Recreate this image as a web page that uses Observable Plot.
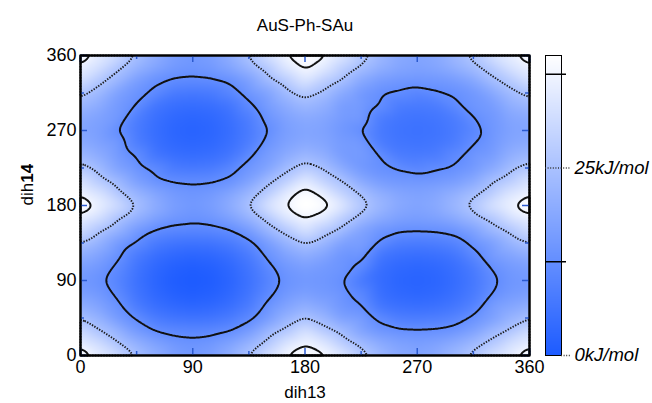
<!DOCTYPE html>
<html><head><meta charset="utf-8">
<script src="https://cdn.jsdelivr.net/npm/d3@7"></script>
<script src="https://cdn.jsdelivr.net/npm/@observablehq/plot@0.6"></script>
<style>
body{margin:0;background:#fff;font-family:"Liberation Sans",Arial,Helvetica,sans-serif;}
#wrap{position:relative;width:652px;height:403px;overflow:hidden;}
#wrap svg{position:absolute;top:0;}
</style></head><body><div id="wrap"></div>
<script>
const title = "AuS-Ph-SAu";
const xLabel = "dih13";
const yLabel = "dih14";
const angleTicks = [0, 90, 180, 270, 360];
const minorTicks = [45, 135, 225, 315];
const dih13 = [0,15,30,45,60,75,90,105,120,135,150,165,180,195,210,225,240,255,270,285,300,315,330,345,360];
const dih14 = [0,15,30,45,60,75,90,105,120,135,150,165,180,195,210,225,240,255,270,285,300,315,330,345,360];
// energy (kJ/mol), rows = dih14, columns = dih13
const energy = [
[42.0,35.0,31.2,24.5,20.2,16.6,15.0,16.6,20.2,25.2,32.6,37.8,41.0,38.5,34.0,27.1,22.6,19.2,17.8,19.2,22.6,26.5,32.6,35.7,42.0],
[35.0,31.5,25.2,20.9,17.4,14.8,13.9,14.8,17.4,21.4,26.4,33.4,37.0,34.1,27.7,23.2,19.6,17.3,16.5,17.3,19.6,22.7,26.5,32.2,35.0],
[31.2,25.2,21.0,15.4,12.2,10.8,10.5,10.8,12.2,15.7,21.8,26.4,32.6,27.0,23.0,17.4,14.2,13.1,12.9,13.1,14.2,17.0,22.2,25.8,31.2],
[24.5,20.9,15.4,12.0,7.9,6.3,5.8,6.3,7.9,11.1,15.7,21.4,25.2,22.0,16.8,16.0,11.4,8.5,8.0,8.5,9.9,13.5,16.5,21.4,24.5],
[20.2,17.4,13.5,7.9,4.8,3.2,2.6,3.2,4.8,7.9,13.5,17.4,20.2,18.0,14.3,12.8,6.6,5.2,4.7,5.2,6.6,9.4,15.7,18.0,20.2],
[16.6,14.8,11.4,6.3,3.2,1.3,0.6,1.3,3.2,6.3,11.0,14.8,16.6,15.3,14.0,10.8,4.9,3.2,2.7,3.2,4.9,7.8,12.3,15.3,16.6],
[15.0,13.4,10.0,5.8,2.6,0.6,0.0,0.6,2.6,5.8,9.8,13.6,15.0,14.5,12.8,7.2,4.4,2.6,2.0,2.6,4.4,7.2,11.4,14.5,15.0],
[16.6,14.8,11.4,6.3,3.2,1.3,0.6,1.3,3.2,6.3,11.0,14.8,16.6,15.3,14.2,11.4,4.9,3.2,2.7,3.2,4.9,7.8,12.8,15.3,16.6],
[20.2,17.4,13.5,7.9,4.8,3.2,2.6,3.2,4.8,7.9,13.5,17.4,20.2,18.0,14.3,14.2,6.6,5.2,4.7,5.2,6.6,11.0,15.5,18.0,20.2],
[24.8,21.1,15.5,12.0,7.9,6.3,5.8,6.3,7.9,11.1,15.9,21.6,25.4,22.2,17.0,16.5,12.0,8.5,8.0,8.5,9.9,13.8,16.6,21.7,24.8],
[31.8,25.7,21.3,15.5,12.2,10.8,10.5,10.8,12.2,15.9,22.1,26.9,33.2,27.5,23.3,17.5,14.2,13.1,12.9,13.1,14.2,17.2,22.5,26.3,31.8],
[35.8,32.3,25.7,21.1,17.4,14.8,13.9,14.8,17.4,21.6,26.9,34.2,37.8,34.9,28.2,23.4,19.6,17.3,16.5,17.3,19.6,22.9,26.9,33.0,35.8],
[41.5,36.5,31.8,24.8,20.2,16.6,15.0,16.6,20.2,25.4,33.2,37.8,45.0,39.8,34.6,27.4,22.6,19.2,17.8,19.2,22.6,26.7,33.2,37.0,41.5],
[36.6,33.0,26.3,21.7,18.0,15.3,14.5,15.3,18.0,22.2,27.5,34.9,39.8,35.6,29.0,24.3,20.5,18.2,17.4,18.2,20.5,23.7,27.8,33.7,36.6],
[33.2,26.9,22.5,16.6,13.2,11.9,11.5,11.9,13.2,17.0,23.3,28.2,34.6,29.0,24.8,19.2,15.9,14.9,14.6,14.9,15.9,18.8,24.1,27.8,33.2],
[26.7,22.9,17.2,14.0,11.5,7.8,7.2,7.8,10.5,14.5,17.5,23.4,27.4,24.3,19.2,15.0,13.0,12.0,10.5,12.0,13.0,14.9,18.8,23.7,26.7],
[22.6,19.6,15.5,12.4,6.6,4.9,4.4,4.9,6.6,11.5,16.0,19.6,22.6,20.5,15.9,15.5,12.7,8.2,7.8,8.2,11.5,14.5,15.9,20.5,22.6],
[19.2,17.3,15.2,8.5,5.2,3.2,2.6,3.2,5.2,8.5,14.0,17.3,19.2,18.2,15.8,15.4,8.2,6.6,6.0,6.6,8.2,12.3,14.9,18.2,19.2],
[17.8,16.5,12.3,8.0,4.7,2.7,2.0,2.7,4.7,8.0,12.2,16.5,17.8,17.4,14.6,12.3,7.8,6.0,5.5,6.0,7.8,10.5,14.6,17.4,17.8],
[19.2,17.3,15.2,8.5,5.2,3.2,2.6,3.2,5.2,8.5,14.0,17.3,19.2,18.2,15.8,15.4,8.2,6.6,6.0,6.6,8.2,12.3,14.9,18.2,19.2],
[22.6,19.6,15.5,12.4,6.6,4.9,4.4,4.9,6.6,11.5,16.0,19.6,22.6,20.5,15.9,15.5,12.7,8.2,7.8,8.2,11.5,14.5,15.9,20.5,22.6],
[26.5,22.7,17.0,14.0,11.5,7.8,7.2,7.8,10.5,14.5,17.4,23.2,27.1,24.1,19.0,15.0,13.0,12.0,10.5,12.0,13.0,14.8,18.7,23.5,26.5],
[32.6,26.5,22.2,16.5,13.2,11.9,11.5,11.9,13.2,16.8,23.0,27.7,34.0,28.5,24.5,19.0,15.9,14.9,14.6,14.9,15.9,18.7,23.7,27.3,32.6],
[35.7,32.2,25.8,21.4,18.0,15.3,14.5,15.3,18.0,22.0,27.0,34.1,38.5,34.9,28.5,24.1,20.5,18.2,17.4,18.2,20.5,23.5,27.3,33.0,35.7],
[42.0,35.0,31.2,24.5,20.2,16.6,15.0,16.6,20.2,25.2,32.6,37.8,41.0,38.5,34.0,27.1,22.6,19.2,17.8,19.2,22.6,26.5,32.6,35.7,42.0]
];
const solidLevels = [12.5, 37.5];
const dottedLevels = [25];
const energyRange = [0, 40];
const cbTicks = [0, 25];
const cbLabels = ["0kJ/mol", "25kJ/mol"];

const grid = [];
energy.forEach((row, m) => row.forEach((e, k) => grid.push({x: dih13[k], y: dih14[m], e})));

const color = {type: "linear", domain: energyRange, range: ["#1d5bff", "#ffffff"], clamp: true};
const field = {x: "x", y: "y", interpolate: "barycentric", x1: 0, y1: 0, x2: 360, y2: 360, pixelSize: 1, blur: 4};
const tickBlue = "#2c5bd0";
const font = "Liberation Sans, Arial, Helvetica, sans-serif";

const main = Plot.plot({
  width: 652, height: 403,
  marginLeft: 80, marginRight: 123, marginTop: 55, marginBottom: 48,
  style: {fontFamily: font, fontSize: "18px", color: "black", background: "transparent"},
  x: {domain: [0, 360], ticks: angleTicks, tickSize: 0, tickPadding: 5, label: null},
  y: {domain: [0, 360], ticks: angleTicks, tickSize: 0, tickPadding: 4, label: null},
  color,
  marks: [
    Plot.raster(grid, {...field, fill: "e"}),
    Plot.contour(grid, {...field, value: "e", thresholds: dottedLevels,
      fill: "none", stroke: "#1a1a1a", strokeWidth: 1.9, strokeDasharray: "1.4,1.4"}),
    Plot.contour(grid, {...field, value: "e", thresholds: solidLevels,
      fill: "none", stroke: "#111", strokeWidth: 2}),
    Plot.tickX(angleTicks, {x: d => d, insetTop: 293, stroke: tickBlue, strokeWidth: 1.5}),
    Plot.tickX(angleTicks, {x: d => d, insetBottom: 293, stroke: tickBlue, strokeWidth: 1.5}),
    Plot.tickX(minorTicks, {x: d => d, insetTop: 296, stroke: tickBlue, strokeWidth: 1.5}),
    Plot.tickX(minorTicks, {x: d => d, insetBottom: 296, stroke: tickBlue, strokeWidth: 1.5}),
    Plot.tickY(angleTicks, {y: d => d, insetRight: 442, stroke: tickBlue, strokeWidth: 1.5}),
    Plot.tickY(angleTicks, {y: d => d, insetLeft: 442, stroke: tickBlue, strokeWidth: 1.5}),
    Plot.tickY(minorTicks, {y: d => d, insetRight: 445, stroke: tickBlue, strokeWidth: 1.5}),
    Plot.tickY(minorTicks, {y: d => d, insetLeft: 445, stroke: tickBlue, strokeWidth: 1.5}),
    Plot.frame({stroke: "black", strokeWidth: 2}),
    Plot.text([title], {text: d => d, frameAnchor: "top", dy: -37, fontSize: 17}),
    Plot.text([xLabel], {text: d => d, frameAnchor: "bottom", dy: 42, fontSize: 17}),
    Plot.text([yLabel], {text: d => d, frameAnchor: "left", dx: -53, rotate: -90, fontSize: 17})
  ]
});

d3.select(main).selectAll("text").filter(function() { return this.textContent === yLabel; }).each(function() {
  const t = d3.select(this);
  t.text("");
  t.append("tspan").text("dih");
  t.append("tspan").attr("font-weight", "bold").text("14");
});

const cbar = Plot.plot({
  width: 122, height: 403,
  marginLeft: 15, marginRight: 91, marginTop: 55, marginBottom: 48,
  style: {fontFamily: font, fontSize: "18px", color: "black", background: "transparent", overflow: "visible"},
  x: {domain: [0, 1], axis: null},
  y: {domain: energyRange, axis: null},
  color,
  marks: [
    Plot.raster({fill: (x, y) => y, x1: 0, x2: 1, y1: energyRange[0], y2: energyRange[1], pixelSize: 1}),
    Plot.frame({stroke: "black", strokeWidth: 1}),
    Plot.tickY(solidLevels, {y: d => d, stroke: "black", strokeWidth: 1.5, insetRight: -5}),
    Plot.tickY(dottedLevels, {y: d => d, stroke: "#333", strokeWidth: 1.3, strokeDasharray: "1,1.6", insetRight: -10}),
    Plot.tickY([cbTicks[0]], {y: d => d, stroke: "#333", strokeWidth: 1.3, strokeDasharray: "1,1.6", insetLeft: 16, insetRight: -10}),
    Plot.text(cbTicks, {y: d => d, text: (d, i) => cbLabels[i], frameAnchor: "right", dx: 13, textAnchor: "start", fontStyle: "italic", fontSize: 18.5})
  ]
});
cbar.style.left = "530px";
main.style.left = "0px";

const wrap = document.getElementById("wrap");
wrap.appendChild(main);
wrap.appendChild(cbar);
</script></body></html>
